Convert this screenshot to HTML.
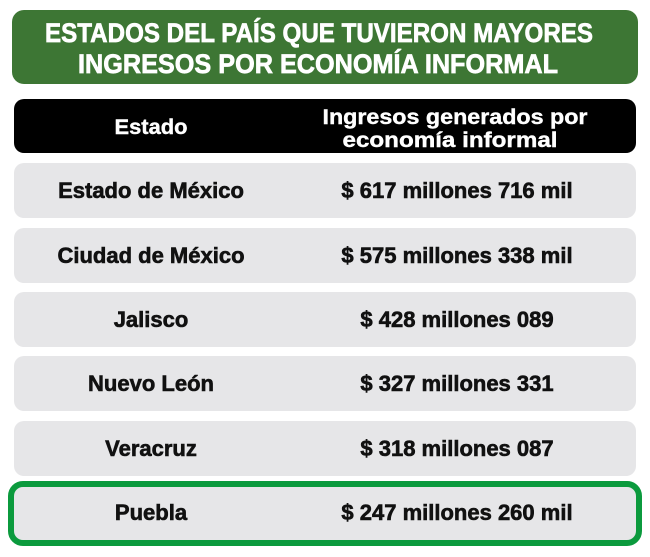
<!DOCTYPE html>
<html><head><meta charset="utf-8"><style>
html,body{margin:0;padding:0;background:#fff;width:650px;height:557px;overflow:hidden}
svg text{font-family:"Liberation Sans",sans-serif;font-weight:bold}
</style></head><body>
<svg width="650" height="557" viewBox="0 0 650 557" xmlns="http://www.w3.org/2000/svg">
<rect x="12" y="10" width="626" height="74" rx="12" fill="#3d7634"/>
<text x="319" y="42" text-anchor="middle" font-size="27" fill="#fff" stroke="#fff" stroke-width="0.7" textLength="548" lengthAdjust="spacingAndGlyphs">ESTADOS DEL PAÍS QUE TUVIERON MAYORES</text>
<text x="318" y="73" text-anchor="middle" font-size="27" fill="#fff" stroke="#fff" stroke-width="0.7" textLength="480" lengthAdjust="spacingAndGlyphs">INGRESOS POR ECONOMÍA INFORMAL</text>
<rect x="14" y="99" width="622" height="54" rx="10" fill="#000"/>
<text x="151" y="134" text-anchor="middle" font-size="21" fill="#fff" stroke="#fff" stroke-width="0.4" textLength="73" lengthAdjust="spacingAndGlyphs">Estado</text>
<text x="455" y="124" text-anchor="middle" font-size="21" fill="#fff" stroke="#fff" stroke-width="0.4" textLength="265" lengthAdjust="spacingAndGlyphs">Ingresos generados por</text>
<text x="450" y="147" text-anchor="middle" font-size="21" fill="#fff" stroke="#fff" stroke-width="0.4" textLength="215" lengthAdjust="spacingAndGlyphs">economía informal</text>
<g id="rows"></g>
</svg>
<script>
const states=["Estado de México","Ciudad de México","Jalisco","Nuevo León","Veracruz","Puebla"];
const values=["$ 617 millones 716 mil","$ 575 millones 338 mil","$ 428 millones 089","$ 327 millones 331","$ 318 millones 087","$ 247 millones 260 mil"];
const ns="http://www.w3.org/2000/svg";
const g=document.getElementById("rows");
const tops=[163,228,292,356,421,485];
function mk(t,a){const e=document.createElementNS(ns,t);for(const k in a)e.setAttribute(k,a[k]);return e;}
states.forEach((s,i)=>{
  const y=tops[i]||(163+i*64.5);
  const last=i===states.length-1;
  if(last){
    const b=mk("rect",{x:11,y:y-1,width:628,height:59,rx:12,fill:"#e6e6e8",stroke:"#0b9a3d","stroke-width":6});
    
    
    g.appendChild(b);
  } else {
    const r=mk("rect",{x:14,y:y,width:622,height:55,rx:10,fill:"#e6e6e8"});
    
    
    g.appendChild(r);
  }
  const t1=mk("text",{x:151,y:y+35,"text-anchor":"middle","font-size":22,fill:"#111",stroke:"#111","stroke-width":0.6});
  t1.textContent=s;
  
  
  g.appendChild(t1);
  const t2=mk("text",{x:457,y:y+35,"text-anchor":"middle","font-size":22,fill:"#111",stroke:"#111","stroke-width":0.6});
  t2.textContent=values[i];
  
  
  g.appendChild(t2);
});
</script>
</body></html>
